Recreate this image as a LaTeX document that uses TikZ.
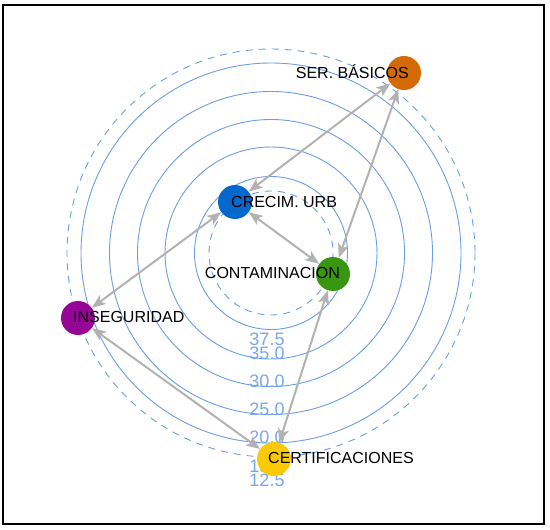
\documentclass[tikz,border=0pt]{standalone}
\usepackage{fontspec}
\setmainfont{Liberation Sans}
\usetikzlibrary{arrows.meta}
\definecolor{ringBlue}{RGB}{105,158,232}
\definecolor{linkGray}{RGB}{178,178,178}
\definecolor{serOrange}{RGB}{212,106,4}
\definecolor{crecBlue}{RGB}{4,104,204}
\definecolor{contGreen}{RGB}{56,150,16}
\definecolor{inseViolet}{RGB}{150,6,150}
\definecolor{certYellow}{RGB}{252,202,4}
\tikzset{
  ring/.style={draw=ringBlue,line width=0.9pt},
  ringdash/.style={ring,dash pattern=on 7pt off 6pt},
  vtx/.style={circle,minimum size=34pt,inner sep=0pt,draw=none},
  lbl/.style={inner sep=0pt,text height=11.5pt,text depth=0pt,font=\fontsize{16}{19}\selectfont},
  tick/.style={inner sep=0pt,text=ringBlue!90,font=\fontsize{18}{20}\selectfont},
  link/.style={draw=linkGray,line width=2pt,{Stealth[length=14pt,width=11pt,inset=3.5pt]}-{Stealth[length=14pt,width=11pt,inset=3.5pt]}}
}

\begin{document}
\begin{tikzpicture}[x=1pt,y=-1pt]
\useasboundingbox (0,0) rectangle (550,530);
\draw[line width=1.3pt] (3,5) rectangle (544,524);
% rings
\draw[ringdash] (271,253) circle (62);
\foreach \r in {76.5,106,133.5,161.5,190}
  \draw[ring] (271,253) circle (\r);
\draw[ringdash] (271,253) circle (204);
\foreach \v/\y [count=\i] in {37.5/339,35.0/353,30.0/381.5,25.0/409.5,20.0/437.5,15.0/466,12.5/480}
  \node[tick] (tick\i) at (267,\y) {\v};
% variables
\node[vtx,fill=serOrange] (ser) at (404,73) {};
\node[vtx,fill=crecBlue] (crec) at (235,202) {};
\node[vtx,fill=contGreen] (cont) at (333,274) {};
\node[vtx,fill=inseViolet] (inse) at (78,318) {};
\node[vtx,fill=certYellow] (cert) at (274,459) {};
\node[lbl,anchor=east] (serL) at ([xshift=5pt]ser.center) {SER. BÁSICOS};
\node[lbl,anchor=west] (crecL) at ([xshift=-4pt]crec.center) {CRECIM. URB};
\node[lbl,anchor=east] (contL) at ([xshift=7pt,yshift=1pt]cont.center) {CONTAMINACION};
\node[lbl,anchor=west] (inseL) at ([xshift=-5pt,yshift=1pt]inse.center) {INSEGURIDAD};
\node[lbl,anchor=west] (certL) at ([xshift=-6pt,yshift=1pt]cert.center) {CERTIFICACIONES};
% links
\draw[link] (ser) -- (crec);
\draw[link] (ser) -- (cont);
\draw[link] (crec) -- (cont);
\draw[link] (crec) -- (inse);
\draw[link] (inse) -- (cert);
\draw[link] (cont) -- (cert);
\end{tikzpicture}
\end{document}
